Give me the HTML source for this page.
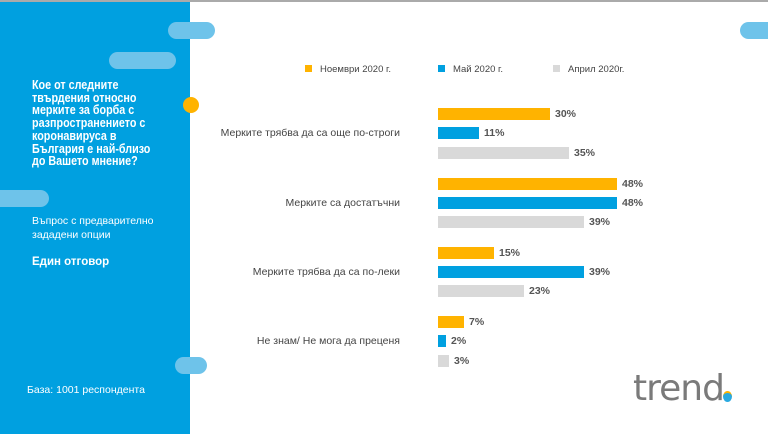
<!DOCTYPE html>
<html><head><meta charset="utf-8"><style>
body{margin:0;width:768px;height:434px;position:relative;overflow:hidden;background:#fff;font-family:"Liberation Sans",sans-serif;}
.a{position:absolute}
.pill{position:absolute;background:#6ec3ea;border-radius:9px;height:17px}
.bar{position:absolute;height:12px;left:438px}
.o{background:#ffb300}.b{background:#00a0e0}.g{background:#d9d9d9}
.v{position:absolute;font-size:10.5px;color:#555;font-weight:bold}
.cat{position:absolute;right:368px;font-size:10.5px;color:#444;text-align:right;white-space:nowrap}
.lg{position:absolute;top:64px;font-size:9.5px;color:#444}
.lg i{display:inline-block;width:7px;height:7px;margin-right:8px}
</style></head><body>
<div class="a" style="left:0;top:0;width:768px;height:2px;background:#aaa"></div>
<div class="a" style="left:0;top:2px;width:190px;height:432px;background:#00a0e0"></div>
<div class="pill" style="left:168px;top:22px;width:47px"></div>
<div class="pill" style="left:109px;top:52px;width:67px"></div>
<div class="pill" style="left:-10px;top:190px;width:59px"></div>
<div class="pill" style="left:175px;top:357px;width:32px"></div>
<div class="pill" style="left:740px;top:22px;width:40px"></div>
<div class="a" style="left:183px;top:97px;width:16px;height:16px;border-radius:50%;background:#ffb300"></div>
<div class="a" style="left:32px;top:79px;color:#fff;font-weight:bold;font-size:12.5px;line-height:12.7px;white-space:nowrap;transform:scaleX(0.86);transform-origin:0 0">Кое от следните<br>твърдения относно<br>мерките за борба с<br>разпространението с<br>коронавируса в<br>България е най-близо<br>до Вашето мнение?</div>
<div class="a" style="left:32px;top:214px;color:#fff;font-size:10.5px;line-height:14px">Въпрос с предварително<br>зададени опции</div>
<div class="a" style="left:32px;top:256px;color:#fff;font-weight:bold;font-size:11.5px">Един отговор</div>
<div class="a" style="left:27px;top:384px;color:#fff;font-size:10.5px">База: 1001 респондента</div>

<div class="lg" style="left:305px"><i style="background:#ffb300"></i>Ноември 2020 г.</div>
<div class="lg" style="left:438px"><i style="background:#00a0e0"></i>Май 2020 г.</div>
<div class="lg" style="left:553px"><i style="background:#d9d9d9"></i>Април 2020г.</div>

<div class="cat" style="top:127px">Мерките трябва да са още по-строги</div>
<div class="cat" style="top:197px">Мерките са достатъчни</div>
<div class="cat" style="top:266px">Мерките трябва да са по-леки</div>
<div class="cat" style="top:335px">Не знам/ Не мога да преценя</div>

<div class="bar o" style="top:108px;width:112px"></div><div class="v" style="left:555px;top:108px">30%</div>
<div class="bar b" style="top:127px;width:41px"></div><div class="v" style="left:484px;top:127px">11%</div>
<div class="bar g" style="top:147px;width:131px"></div><div class="v" style="left:574px;top:147px">35%</div>

<div class="bar o" style="top:178px;width:179px"></div><div class="v" style="left:622px;top:178px">48%</div>
<div class="bar b" style="top:197px;width:179px"></div><div class="v" style="left:622px;top:197px">48%</div>
<div class="bar g" style="top:216px;width:146px"></div><div class="v" style="left:589px;top:216px">39%</div>

<div class="bar o" style="top:247px;width:56px"></div><div class="v" style="left:499px;top:247px">15%</div>
<div class="bar b" style="top:266px;width:146px"></div><div class="v" style="left:589px;top:266px">39%</div>
<div class="bar g" style="top:285px;width:86px"></div><div class="v" style="left:529px;top:285px">23%</div>

<div class="bar o" style="top:316px;width:26px"></div><div class="v" style="left:469px;top:316px">7%</div>
<div class="bar b" style="top:335px;width:8px"></div><div class="v" style="left:451px;top:335px">2%</div>
<div class="bar g" style="top:355px;width:11px"></div><div class="v" style="left:454px;top:355px">3%</div>

<div class="a" style="left:633px;top:368px;font-size:36px;color:#7a7a7a;letter-spacing:-1px;font-family:'DejaVu Sans',sans-serif">trend</div>
<div class="a" style="left:723px;top:391px;width:9px;height:9px;border-radius:50%;background:#29a9e0;border-top:2px solid #ffb300"></div>
</body></html>
